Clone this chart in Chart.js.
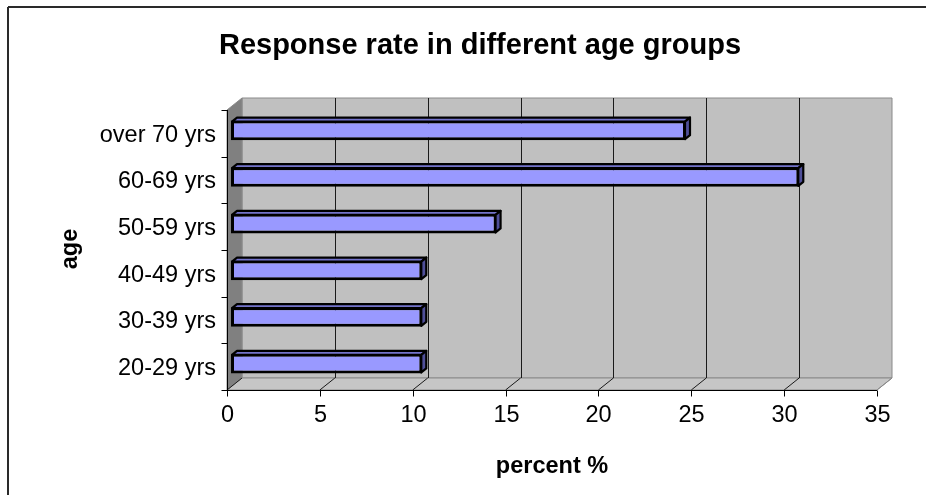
<!DOCTYPE html>
<html>
<head>
<meta charset="utf-8">
<title>Response rate in different age groups</title>
<script src="https://cdn.jsdelivr.net/npm/chart.js@4.4.1/dist/chart.umd.min.js"></script>
<style>
  html, body { margin: 0; padding: 0; background: #fff; }
  #wrap { width: 926px; height: 495px; }
</style>
</head>
<body>
<div id="wrap"><canvas id="chart" width="926" height="495"></canvas></div>
<script>
// ---- data ----
const ageGroups = ['20-29 yrs', '30-39 yrs', '40-49 yrs', '50-59 yrs', '60-69 yrs', 'over 70 yrs'];
const responseRates = [10.3, 10.3, 10.3, 14.3, 30.6, 24.5];
const percentTicks = [0, 5, 10, 15, 20, 25, 30, 35];
const chartTitle = 'Response rate in different age groups';
const xAxisTitle = 'percent %';
const yAxisTitle = 'age';

// ---- look ----
const FONT = "'Liberation Sans', Arial, sans-serif";
const FRONT = { dx: -4, dy: 3 };     // front plane, relative to the bar plane
const BACK = { dx: 11, dy: -9 };     // back wall, relative to the bar plane
const BAR_DEPTH = { dx: 5, dy: -4 }; // depth of each bar
const COLORS = {
  wall: '#c0c0c0', side: '#808080', floor: '#c6c6c6', edge: '#8a8a8a',
  grid: '#1a1a1a', barFront: '#9999ff', barTop: '#7474cc', barSide: '#4f4f99'
};

function poly(ctx, pts, fill, stroke, lw) {
  ctx.beginPath();
  ctx.moveTo(pts[0][0], pts[0][1]);
  for (let i = 1; i < pts.length; i++) ctx.lineTo(pts[i][0], pts[i][1]);
  ctx.closePath();
  if (fill) { ctx.fillStyle = fill; ctx.fill(); }
  if (stroke) { ctx.strokeStyle = stroke; ctx.lineWidth = lw || 1; ctx.stroke(); }
}
function line(ctx, x1, y1, x2, y2, color, lw) {
  ctx.beginPath();
  ctx.moveTo(x1, y1); ctx.lineTo(x2, y2);
  ctx.strokeStyle = color; ctx.lineWidth = lw || 1; ctx.stroke();
}

// Walls, floor, grid and axes of the pseudo-3D box around the bars
const box3d = {
  id: 'box3d',
  beforeDraw(chart) {
    const ctx = chart.ctx;
    ctx.save();
    ctx.fillStyle = '#fff';
    ctx.fillRect(0, 0, chart.width, chart.height);
    ctx.restore();
  },
  beforeDatasetsDraw(chart) {
    const ctx = chart.ctx, a = chart.chartArea, xs = chart.scales.x;
    const fl = a.left + FRONT.dx, fr = a.right + FRONT.dx, ft = a.top + FRONT.dy, fb = a.bottom + FRONT.dy;
    const bl = a.left + BACK.dx, br = a.right + BACK.dx, bt = a.top + BACK.dy, bb = a.bottom + BACK.dy;
    ctx.save();
    // back wall
    poly(ctx, [[bl, bt], [br, bt], [br, bb], [bl, bb]], COLORS.wall, COLORS.edge, 1);
    // left side wall
    poly(ctx, [[fl, ft], [bl, bt], [bl, bb], [fl, fb]], COLORS.side, COLORS.edge, 1);
    // floor
    poly(ctx, [[fl, fb], [fr, fb], [br, bb], [bl, bb]], COLORS.floor, COLORS.edge, 1);
    // gridlines on the wall and their run across the floor
    percentTicks.forEach(v => {
      const px = xs.getPixelForValue(v);
      const gx = Math.round(px + BACK.dx) + 0.5;
      const last = v === percentTicks[percentTicks.length - 1];
      if (v !== percentTicks[0] && !last) line(ctx, gx, bt, gx, bb, COLORS.grid, 1);
      line(ctx, px + BACK.dx, bb, px + FRONT.dx, fb, last ? COLORS.edge : COLORS.grid, 1);
    });
    ctx.restore();
  },
  afterDatasetsDraw(chart) {
    const ctx = chart.ctx;
    const meta = chart.getDatasetMeta(0);
    ctx.save();
    ctx.lineJoin = 'round';
    meta.data.forEach(el => {
      const p = el.getProps(['x', 'y', 'base', 'height'], true);
      const top = p.y - p.height / 2 + 1, bottom = p.y + p.height / 2 - 1;
      const dx = BAR_DEPTH.dx, dy = BAR_DEPTH.dy;
      poly(ctx, [[p.base + 1, top], [p.base + 1 + dx, top + dy], [p.x - 1 + dx, top + dy], [p.x - 1, top]], COLORS.barTop, '#000', 2.2);
      poly(ctx, [[p.x - 1, top], [p.x - 1 + dx, top + dy], [p.x - 1 + dx, bottom + dy], [p.x - 1, bottom]], COLORS.barSide, '#000', 2.2);
    });
    ctx.restore();
  },
  afterDraw(chart) {
    const ctx = chart.ctx, a = chart.chartArea, xs = chart.scales.x, ys = chart.scales.y;
    const fl = a.left + FRONT.dx, fr = a.right + FRONT.dx, ft = a.top + FRONT.dy, fb = a.bottom + FRONT.dy;
    ctx.save();
    // outer frame
    line(ctx, 8, 7, 8, chart.height, '#2a2a2a', 2);
    line(ctx, 8, 7, chart.width, 7, '#2a2a2a', 2);

    // category axis
    const vx = Math.round(fl) + 0.5;
    line(ctx, vx, ft, vx, fb, '#000', 1);
    const band = (a.bottom - a.top) / ageGroups.length;
    for (let i = 0; i <= ageGroups.length; i++) {
      const ty = Math.round(ft + i * band) + 0.5;
      line(ctx, vx - 6, ty, vx, ty, '#000', 1);
    }
    ctx.fillStyle = '#000';
    ctx.font = '23.5px ' + FONT;
    ctx.textAlign = 'right';
    ctx.textBaseline = 'alphabetic';
    ageGroups.forEach((g, i) => {
      const cy = ys.getPixelForValue(i) + FRONT.dy;
      ctx.fillText(g, fl - 11, cy + 8.4);
    });

    // value axis
    const hy = Math.round(fb) + 0.5;
    line(ctx, fl, hy, fr, hy, '#000', 1);
    ctx.textAlign = 'center';
    percentTicks.forEach(v => {
      const tx = Math.round(xs.getPixelForValue(v) + FRONT.dx) + 0.5;
      line(ctx, tx, hy, tx, hy + 6, '#000', 1);
      ctx.fillText(String(v), tx, 422);
    });

    // titles
    ctx.font = 'bold 23.5px ' + FONT;
    ctx.fillText(xAxisTitle, (fl + fr) / 2, 473);
    ctx.save();
    ctx.translate(77, 249);
    ctx.rotate(-Math.PI / 2);
    ctx.fillText(yAxisTitle, 0, 0);
    ctx.restore();

    ctx.font = 'bold 29px ' + FONT;
    ctx.fillText(chartTitle, 480, 54);
    ctx.restore();
  }
};

new Chart(document.getElementById('chart'), {
  type: 'bar',
  data: {
    labels: ageGroups,
    datasets: [{
      data: responseRates,
      backgroundColor: COLORS.barFront,
      borderColor: '#000',
      borderWidth: 3,
      borderSkipped: false,
      barPercentage: 0.42,
      categoryPercentage: 1
    }]
  },
  options: {
    indexAxis: 'y',
    responsive: false,
    animation: false,
    events: [],
    layout: { padding: { left: 231, top: 107, right: 45, bottom: 108 } },
    scales: {
      x: { type: 'linear', min: 0, max: 35, display: false },
      y: { type: 'category', reverse: true, display: false }
    },
    plugins: { legend: { display: false }, tooltip: { enabled: false }, title: { display: false } }
  },
  plugins: [box3d]
});
</script>
</body>
</html>
